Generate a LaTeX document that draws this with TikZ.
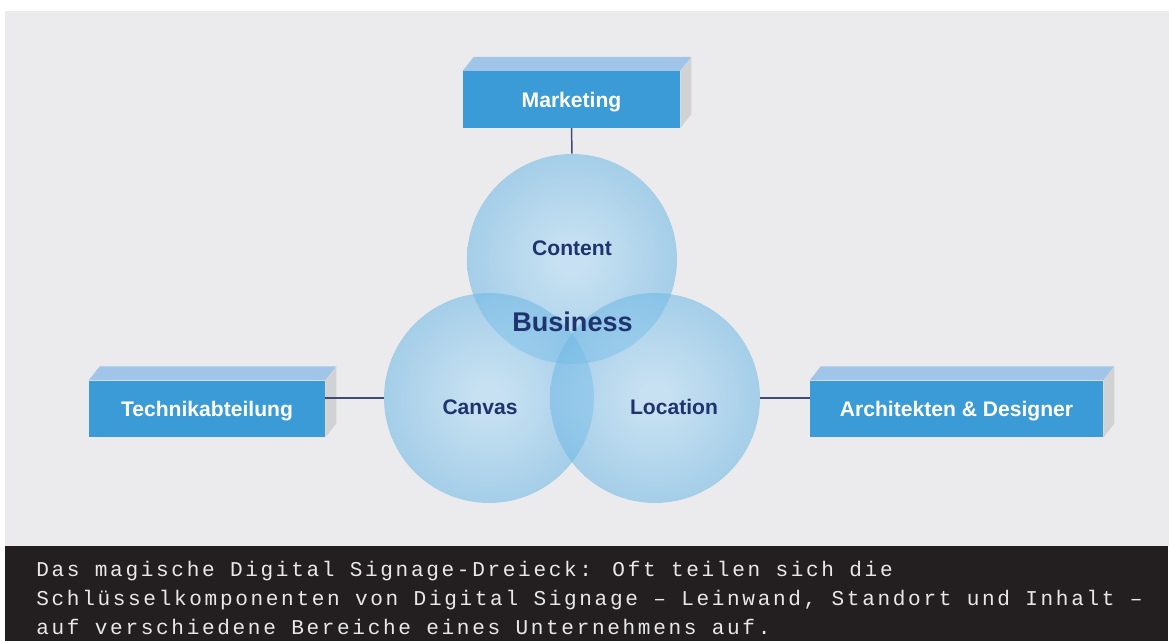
\documentclass[tikz,border=0pt]{standalone}
\usepackage{fontspec}
\setmainfont{Liberation Sans}
\newfontfamily\capfont[LetterSpace=12.6]{Liberation Mono}
\usepackage{tikz}
\usetikzlibrary{positioning,calc}
\definecolor{panel}{HTML}{EBEBED}
\definecolor{capbg}{HTML}{231F20}
\definecolor{capink}{HTML}{E8E8E8}
\definecolor{front}{HTML}{3A9BD6}
\definecolor{lid}{HTML}{A1C5E8}
\definecolor{flank}{HTML}{D1D2D4}
\definecolor{ink}{HTML}{1F336E}
\definecolor{wire}{HTML}{3E4A7C}
\definecolor{bubin}{HTML}{AFDBF6}
\definecolor{bubmid}{HTML}{7BBEE8}
\definecolor{bubout}{HTML}{53AADC}
% rim of the circle sits at about 35bp of the shading
\pgfdeclareradialshading{bubble}{\pgfpoint{0bp}{0bp}}{color(0bp)=(bubin); color(3bp)=(bubin); color(22bp)=(bubmid); color(35bp)=(bubout); color(50bp)=(bubout)}

\begin{document}
\begin{tikzpicture}[x=0.02cm,y=-0.02cm,
  every node/.style={font=\bfseries\fontsize{12}{14}\selectfont},
  block/.style={fill=front,text=white,minimum height=1.13cm,inner sep=0pt,text height=8.6pt,text depth=0pt},
  bubble/.style={circle,minimum size=4.2cm,inner sep=0pt,shade,shading=bubble,fill opacity=0.58},
  tag/.style={text=ink,text height=8.6pt,text depth=0pt,inner sep=0pt},
  capline/.style={text=capink,font=\capfont\fontsize{12}{16}\selectfont,inner sep=0pt,anchor=base west},
  wire/.style={draw=wire,line width=0.85pt}]
  \useasboundingbox[fill=white] (0,0) rectangle (1169,641);
  \fill[panel] (5,11) rectangle (1169,546);
  \fill[capbg] (5,546) rectangle (1168,641);
  % departments
  \node[block,minimum width=4.34cm] (mkt) at (571.5,99.5) {Marketing};
  \node[block,minimum width=4.72cm] (tech) at (207,409) {Technikabteilung};
  \node[block,minimum width=5.86cm] (arch) at (956.5,409) {Architekten \& Designer};
  \foreach \b in {mkt,tech,arch}{
    \fill[lid] (\b.north west) -- ++(11,-14) -- ($(\b.north east)+(11,-14)$) -- (\b.north east) -- cycle;
    \fill[flank] (\b.north east) -- ++(11,-14) -- ($(\b.south east)+(11,-14)$) -- (\b.south east) -- cycle;}
  % the three circles
  \node[bubble] (content) at (572,259) {};
  \node[bubble] (canvas) at (489,398) {};
  \node[bubble] (location) at (655,398) {};
  \draw[wire] (mkt.south) -- (content.north);
  \draw[wire] (tech.east |- canvas.west) -- (canvas.west);
  \draw[wire] (location.east) -- (location.east -| arch.west);
  \node[tag] (contenttxt) at (572,248) {Content};
  \node[tag] (canvastxt) at (480,406.5) {Canvas};
  \node[tag] (locationtxt) at (674,406.5) {Location};
  \node[tag,font=\bfseries\fontsize{15.4}{18}\selectfont,text height=11pt] (businesstxt) at (572.5,321.5) {Business};
  % caption
  \node[capline] (cap1) at (36,576) {Das magische Digital Signage-Dreieck: Oft teilen sich die};
  \node[capline] (cap2) at (36,605) {Schlüsselkomponenten von Digital Signage – Leinwand, Standort und Inhalt –};
  \node[capline] (cap3) at (36,634) {auf verschiedene Bereiche eines Unternehmens auf.};
\end{tikzpicture}
\end{document}
